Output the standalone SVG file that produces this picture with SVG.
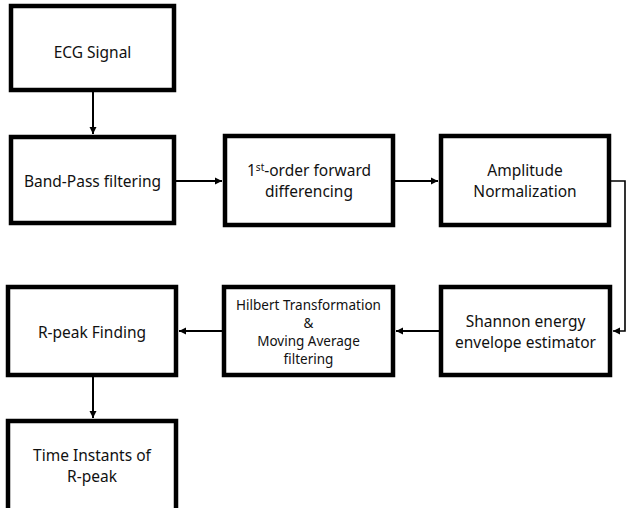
<svg xmlns="http://www.w3.org/2000/svg" width="626" height="508" viewBox="0 0 626 508">
<style>
.box{fill:#fff;stroke:#000;stroke-width:4.5}
.t{font-family:"Noto Sans","Liberation Sans",sans-serif;font-size:15.5px;fill:#111;text-anchor:middle}
.s{font-size:13.5px}
.c{fill:none;stroke:#000;stroke-width:2}
.c2{fill:none;stroke:#000;stroke-width:1.6}
</style>
<defs>
<marker id="ah" markerWidth="8" markerHeight="8" refX="7" refY="4" orient="auto" markerUnits="userSpaceOnUse">
<path d="M0,0.5 L7,4 L0,7.5 Z" fill="#000"/>
</marker>
</defs>
<rect width="626" height="508" fill="#fff"/>
<g id="connectors">
<line class="c" x1="93" y1="92" x2="93" y2="134" marker-end="url(#ah)"/>
<line class="c" x1="176" y1="181" x2="222" y2="181" marker-end="url(#ah)"/>
<line class="c" x1="395" y1="181" x2="438" y2="181" marker-end="url(#ah)"/>
<polyline class="c2" points="611,181 625,181 625,331 613,331" marker-end="url(#ah)"/>
<line class="c" x1="439" y1="331" x2="396" y2="331" marker-end="url(#ah)"/>
<line class="c" x1="222" y1="331" x2="179" y2="331" marker-end="url(#ah)"/>
<line class="c" x1="93" y1="377" x2="93" y2="418" marker-end="url(#ah)"/>
</g>
<g id="ecg">
<rect class="box" x="11" y="6" width="163" height="84"/>
<text class="t" x="92.5" y="58">ECG Signal</text>
</g>
<g id="bandpass">
<rect class="box" x="11" y="137" width="163" height="86"/>
<text class="t" x="92.5" y="187">Band-Pass filtering</text>
</g>
<g id="differencing">
<rect class="box" x="225" y="136" width="168" height="89"/>
<text class="t" x="309" y="176">1<tspan font-size="10" dy="-5">st</tspan><tspan dy="5">-order forward</tspan></text>
<text class="t" x="309" y="197">differencing</text>
</g>
<g id="normalization">
<rect class="box" x="441" y="136" width="168" height="89"/>
<text class="t" x="525" y="176">Amplitude</text>
<text class="t" x="525" y="197">Normalization</text>
</g>
<g id="shannon">
<rect class="box" x="441" y="287" width="169" height="88"/>
<text class="t" x="525.5" y="327">Shannon energy</text>
<text class="t" x="525.5" y="348">envelope estimator</text>
</g>
<g id="hilbert">
<rect class="box" x="224" y="287" width="169" height="88"/>
<text class="t s" x="308.5" y="310">Hilbert Transformation</text>
<text class="t s" x="308.5" y="328">&amp;</text>
<text class="t s" x="308.5" y="346">Moving Average</text>
<text class="t s" x="308.5" y="364">filtering</text>
</g>
<g id="rpeak">
<rect class="box" x="8" y="287" width="168" height="88"/>
<text class="t" x="92" y="338">R-peak Finding</text>
</g>
<g id="instants">
<rect class="box" x="8" y="421" width="168" height="92"/>
<text class="t" x="92" y="461">Time Instants of</text>
<text class="t" x="92" y="482">R-peak</text>
</g>
</svg>
